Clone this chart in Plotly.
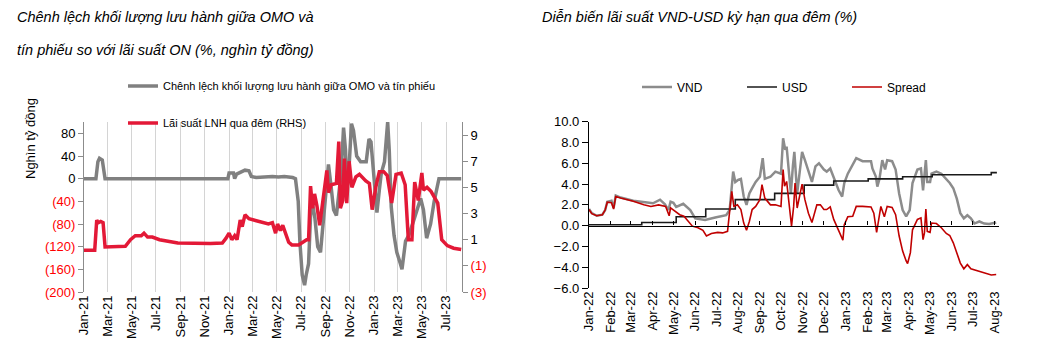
import plotly.graph_objects as go

W, H = 1051, 359
OFF = 8  # page body margin of the browser
FW, FH = W - 2 * OFF, H - 2 * OFF

# ---------------- Left chart data ----------------
omo_dates = ["2021-01-01", "2021-01-31", "2021-02-05", "2021-02-09", "2021-02-16", "2021-02-20", "2021-02-23",
             "2021-12-29", "2022-01-01", "2022-01-12", "2022-01-15", "2022-01-20", "2022-01-26", "2022-02-03",
             "2022-02-10", "2022-02-20", "2022-02-26", "2022-03-10", "2022-04-01", "2022-04-20", "2022-05-05",
             "2022-05-20", "2022-06-10", "2022-06-17", "2022-06-24", "2022-06-28", "2022-07-04", "2022-07-10",
             "2022-07-14", "2022-07-20", "2022-07-25", "2022-07-29", "2022-08-05", "2022-08-12", "2022-08-19",
             "2022-08-24", "2022-08-30", "2022-09-08", "2022-09-14", "2022-09-21", "2022-09-28", "2022-10-05",
             "2022-10-10", "2022-10-16", "2022-10-21", "2022-10-24", "2022-10-29", "2022-11-05", "2022-11-10",
             "2022-11-18", "2022-11-28", "2022-12-12", "2022-12-19", "2022-12-24", "2022-12-31", "2023-01-08",
             "2023-01-14", "2023-01-19", "2023-01-27", "2023-02-01", "2023-02-04", "2023-02-08", "2023-02-13",
             "2023-02-20", "2023-02-27", "2023-03-08", "2023-03-12", "2023-03-21", "2023-03-29", "2023-04-10",
             "2023-04-28", "2023-05-05", "2023-05-13", "2023-05-23", "2023-06-01", "2023-06-13", "2023-08-08"]
omo_vals = [0, 0, 30, 36, 33, 10, 0,
            0, 10, 10, 0, 8, 10, 14,
            15, 14, 4, 2, 3, 4, 3,
            4, 2, 0, -40, -110, -170, -188,
            -170, -150, -65, -40, -70, -120, -130,
            -90, -40, 25, -10, -55, -65, -20,
            10, 90, 50, -20, 10, 97, 85,
            40, 30, 30, 70, 65, 0, -60,
            -20, 10, 30, 80, 100, 50, -50,
            -100, -130, -150, -160, -110, -100, -75,
            -35, -55, -105, -80, -40, 0, 0]

on_dates = ["2021-01-01", "2021-01-28", "2021-02-02", "2021-02-06", "2021-02-12", "2021-02-18", "2021-02-23",
            "2021-04-15", "2021-04-28", "2021-05-10", "2021-05-25", "2021-06-01", "2021-06-10", "2021-06-22",
            "2021-07-10", "2021-08-01", "2021-08-25", "2021-11-15", "2021-12-15", "2021-12-24", "2022-01-01",
            "2022-01-08", "2022-01-15", "2022-01-21", "2022-01-29", "2022-02-03", "2022-02-10", "2022-02-20",
            "2022-03-15", "2022-04-10", "2022-04-20", "2022-04-28", "2022-05-03", "2022-05-10", "2022-05-16",
            "2022-05-31", "2022-06-08", "2022-06-25", "2022-07-15", "2022-07-20", "2022-07-25", "2022-07-30",
            "2022-08-04", "2022-08-10", "2022-08-17", "2022-08-25", "2022-09-04", "2022-09-08", "2022-09-15",
            "2022-09-28", "2022-10-04", "2022-10-08", "2022-10-14", "2022-10-18", "2022-10-24", "2022-10-30",
            "2022-11-06", "2022-11-16", "2022-11-25", "2022-12-11", "2022-12-20", "2022-12-27", "2023-01-05",
            "2023-01-14", "2023-01-25", "2023-02-03", "2023-02-14", "2023-02-25", "2023-03-10", "2023-03-20",
            "2023-03-28", "2023-04-06", "2023-04-13", "2023-04-22", "2023-05-01", "2023-05-05", "2023-05-14",
            "2023-05-24", "2023-06-10", "2023-06-20", "2023-07-04", "2023-07-20", "2023-08-08"]
on_vals = [0.2, 0.2, 2.5, 2.3, 2.4, 2.3, 0.45,
           0.5, 1.0, 1.3, 1.3, 1.5, 1.2, 1.2,
           1.0, 0.9, 0.75, 0.7, 0.75, 1.1, 1.5,
           1.0, 1.3, 1.0, 2.5, 2.0, 2.9, 2.6,
           2.4, 2.2, 2.3, 1.5, 2.2, 1.7, 2.1,
           0.8, 0.6, 0.6, 1.0, 1.0, 5.1, 3.4,
           4.5, 3.6, 2.1, 4.0, 6.3, 4.6, 5.2,
           5.3, 8.5, 3.4, 4.0, 7.2, 3.8, 7.0,
           5.0, 5.8, 6.0, 5.5, 5.3, 3.3, 5.0,
           6.2, 6.2, 5.9, 3.8, 6.0, 6.1, 5.2,
           1.0, 1.0, 5.4, 4.0, 6.1, 4.8, 5.0,
           4.7, 3.8, 1.0, 0.55, 0.35, 0.25]

left_y_ticks = [-200, -160, -120, -80, -40, 0, 40, 80]
right_y_ticks = [-3, -1, 1, 3, 5, 7, 9]

# ---------------- Right chart data ----------------
vnd_dates = ["2022-01-01", "2022-01-05", "2022-01-12", "2022-01-20", "2022-01-24", "2022-01-27", "2022-02-02",
             "2022-02-05", "2022-02-08", "2022-02-15", "2022-03-05", "2022-04-02", "2022-04-12", "2022-04-19",
             "2022-04-24", "2022-04-27", "2022-05-01", "2022-05-05", "2022-05-15", "2022-05-25", "2022-06-01",
             "2022-06-15", "2022-07-01", "2022-07-15", "2022-07-20", "2022-07-22", "2022-07-25", "2022-07-28",
             "2022-08-01", "2022-08-05", "2022-08-09", "2022-08-13", "2022-08-17", "2022-08-21", "2022-08-26",
             "2022-09-01", "2022-09-05", "2022-09-08", "2022-09-16", "2022-09-23", "2022-10-01", "2022-10-04",
             "2022-10-07", "2022-10-09", "2022-10-12", "2022-10-15", "2022-10-18", "2022-10-20", "2022-10-24",
             "2022-10-27", "2022-10-31", "2022-11-04", "2022-11-10", "2022-11-14", "2022-11-19", "2022-11-24",
             "2022-12-01", "2022-12-05", "2022-12-10", "2022-12-15", "2022-12-22", "2022-12-27", "2022-12-30",
             "2023-01-04", "2023-01-11", "2023-01-16", "2023-01-25", "2023-02-06", "2023-02-08", "2023-02-13",
             "2023-02-15", "2023-02-18", "2023-02-22", "2023-02-26", "2023-03-01", "2023-03-08", "2023-03-13",
             "2023-03-18", "2023-03-23", "2023-03-28", "2023-04-02", "2023-04-06", "2023-04-13", "2023-04-18",
             "2023-04-21", "2023-04-23", "2023-04-25", "2023-04-27", "2023-05-01", "2023-05-03", "2023-05-10",
             "2023-05-17", "2023-05-24", "2023-05-29", "2023-06-03", "2023-06-08", "2023-06-13", "2023-06-18",
             "2023-06-23", "2023-06-28", "2023-07-03", "2023-07-10", "2023-07-17", "2023-07-24", "2023-08-03"]
vnd_vals = [1.6, 1.2, 0.95, 1.05, 1.5, 2.3, 2.4,
            1.7, 2.9, 2.7, 2.4, 2.15, 2.5, 2.05,
            1.5, 2.3, 2.2, 1.8, 2.1, 1.5, 0.7,
            0.55, 0.8, 1.0, 1.5, 3.1, 5.2, 4.2,
            4.4, 4.5, 2.8, 2.0, 3.1, 3.6, 4.2,
            4.7, 6.5, 4.5, 4.7, 5.2, 5.0, 8.4,
            7.3, 7.6, 4.9, 3.1, 5.8, 7.1, 3.1,
            4.7, 7.1, 6.3, 4.9, 4.2, 5.7, 6.0,
            5.4, 5.2, 5.5, 4.7, 3.4, 2.8, 4.1,
            5.0, 5.8, 6.5, 6.2, 6.2, 5.5, 4.7,
            3.75, 4.5, 6.3, 5.4, 6.3, 6.2, 5.4,
            3.1, 1.5, 0.9, 1.5, 4.1, 5.4, 5.5,
            3.4, 4.7, 6.3, 4.2, 4.2, 5.0, 5.2,
            5.0, 4.5, 4.1, 3.6, 2.6, 1.2, 0.7,
            1.0, 0.7, 0.2, 0.4, 0.2, 0.15, 0.3]

usd_dates = ["2022-01-01", "2022-03-17", "2022-05-05", "2022-06-16", "2022-07-28", "2022-09-22", "2022-11-03",
             "2022-12-15", "2023-02-02", "2023-03-23", "2023-05-04", "2023-07-27", "2023-08-04"]
usd_vals = [0.08, 0.3, 0.85, 1.6, 2.5, 3.1, 3.9, 4.3, 4.5, 4.7, 4.9, 5.1, 5.1]

spread_dates = ["2022-01-01", "2022-01-05", "2022-01-12", "2022-01-20", "2022-01-24", "2022-01-27", "2022-02-02",
                "2022-02-05", "2022-02-08", "2022-02-15", "2022-03-05", "2022-03-20", "2022-03-30", "2022-04-10",
                "2022-04-20", "2022-04-25", "2022-04-27", "2022-05-03", "2022-05-10", "2022-05-16", "2022-05-20",
                "2022-05-28", "2022-06-05", "2022-06-12", "2022-06-17", "2022-06-24", "2022-07-03", "2022-07-10",
                "2022-07-17", "2022-07-20", "2022-07-23", "2022-07-26", "2022-07-31", "2022-08-05", "2022-08-09",
                "2022-08-13", "2022-08-17", "2022-08-21", "2022-08-26", "2022-09-01", "2022-09-04", "2022-09-08",
                "2022-09-16", "2022-09-23", "2022-10-01", "2022-10-04", "2022-10-06", "2022-10-09", "2022-10-12",
                "2022-10-16", "2022-10-19", "2022-10-21", "2022-10-24", "2022-10-27", "2022-10-31", "2022-11-04",
                "2022-11-09", "2022-11-14", "2022-11-21", "2022-11-26", "2022-12-01", "2022-12-05", "2022-12-10",
                "2022-12-15", "2022-12-20", "2022-12-25", "2022-12-28", "2022-12-30", "2023-01-04", "2023-01-11",
                "2023-01-16", "2023-01-25", "2023-02-06", "2023-02-10", "2023-02-14", "2023-02-17", "2023-02-20",
                "2023-02-25", "2023-03-01", "2023-03-08", "2023-03-13", "2023-03-18", "2023-03-23", "2023-03-28",
                "2023-03-30", "2023-04-03", "2023-04-06", "2023-04-13", "2023-04-18", "2023-04-21", "2023-04-23",
                "2023-04-25", "2023-04-27", "2023-05-01", "2023-05-03", "2023-05-10", "2023-05-17", "2023-05-24",
                "2023-05-29", "2023-06-03", "2023-06-08", "2023-06-13", "2023-06-18", "2023-06-23", "2023-06-28",
                "2023-07-05", "2023-07-12", "2023-07-19", "2023-07-27", "2023-08-03"]
spread_vals = [1.55, 1.15, 0.95, 1.05, 1.5, 2.25, 2.2,
               1.6, 2.8, 2.65, 2.35, 2.0, 1.85, 2.0,
               1.85, 0.95, 1.7, 1.4, 1.05, 0.9, 0.6,
               -0.05, -0.2, -0.45, -1.0, -0.75, -0.65, -0.7,
               -0.55, 1.55, 3.3, 1.85, 2.0, 1.55, 0.25,
               -0.45, 0.4, 1.55, 1.85, 2.5, 3.95, 2.65,
               2.0, 2.0, 1.85, 5.4, 3.8, 4.25, 2.2,
               -0.05, 1.85, 4.1, 1.7, 2.8, 4.0, 2.5,
               1.2, 0.3, 2.0, 2.0, 1.55, 1.55, 1.8,
               0.6, -0.2, -0.85, -1.4, 0.1, 0.85, 0.9,
               1.85, 1.85, 1.8, 1.2, -0.65, 0.6, 1.85,
               0.85, 1.85, 1.75, 1.05, -1.0, -2.45, -3.4,
               -3.65, -2.6, -0.4, 0.6, 0.75, -1.35, -0.7,
               1.6, -0.55, -0.65, 0.25, 0.2, -0.2, -0.75,
               -0.95, -1.65, -2.6, -3.6, -4.15, -3.75, -4.15,
               -4.3, -4.5, -4.6, -4.75, -4.7]

# ---------------- layout helpers ----------------
def px(x):
    return (x - OFF) / FW

def py(y):
    return 1 - (y - OFF) / FH

FONT = "Liberation Sans Narrow, Arial Narrow, Liberation Sans, Arial, sans-serif"
GRAY = "#808080"
RED = "#e31937"
TICKRED = "#ff0000"

L_X = [px(84), px(462)]
L_Y = [py(292), py(122)]
R_X = [px(589), px(999)]
R_Y = [py(288), py(121.7)]

fig = go.Figure()

fig.add_trace(go.Scatter(x=omo_dates, y=omo_vals, mode="lines", xaxis="x", yaxis="y",
                         name="Chênh lệch khối lượng lưu hành giữa OMO và tín phiếu",
                         line=dict(color=GRAY, width=3.5), legend="legend"))
fig.add_trace(go.Scatter(x=on_dates, y=on_vals, mode="lines", xaxis="x", yaxis="y2",
                         name="Lãi suất LNH qua đêm (RHS)",
                         line=dict(color=RED, width=3.5), legend="legend2"))

fig.add_trace(go.Scatter(x=vnd_dates, y=vnd_vals, mode="lines", xaxis="x2", yaxis="y3",
                         name="VND", line=dict(color="#8c8c8c", width=2.5), legend="legend3"))
fig.add_trace(go.Scatter(x=usd_dates, y=usd_vals, mode="lines", xaxis="x2", yaxis="y3",
                         name="USD", line=dict(color="#1a1a1a", width=1.6, shape="hv"), legend="legend3"))
fig.add_trace(go.Scatter(x=spread_dates, y=spread_vals, mode="lines", xaxis="x3", yaxis="y3",
                         name="Spread", line=dict(color="#c00000", width=1.6), legend="legend3"))

def paren(v, color):
    if v < 0:
        return f"<span style='color:{color}'>({abs(v)})</span>"
    return str(v)

zero_frac = (0 - (-6)) / (10 - (-6))
zero_paper = R_Y[0] + zero_frac * (R_Y[1] - R_Y[0])

tickfont = dict(family=FONT, size=13, color="#000000")

fig.update_layout(
    width=FW, height=FH,
    margin=dict(l=0, r=0, t=0, b=0, autoexpand=False),
    paper_bgcolor="white", plot_bgcolor="rgba(0,0,0,0)",
    font=dict(family=FONT, size=12, color="#000000"),
    showlegend=True,
    hovermode=False,
    xaxis=dict(domain=L_X, anchor="y", type="date", range=["2021-01-01", "2023-08-10"],
               tick0="2021-01-01", dtick="M2", tickformat="%b-%y", tickangle=-90,
               showgrid=True, gridcolor="#d4d4d4", gridwidth=1, showline=False, ticks="",
               zeroline=False, tickfont=tickfont, automargin=False),
    yaxis=dict(domain=L_Y, anchor="x", range=[-200, 100], tickvals=left_y_ticks,
               ticktext=[paren(v, TICKRED) for v in left_y_ticks],
               showgrid=False, zeroline=False, showline=True, linecolor="#8c8c8c", linewidth=1,
               ticks="outside", ticklen=5, tickcolor="#8c8c8c", tickfont=tickfont, automargin=False),
    yaxis2=dict(overlaying="y", side="right", anchor="x", range=[-3, 10], tickvals=right_y_ticks,
                ticktext=[paren(v, TICKRED) for v in right_y_ticks],
                showgrid=False, zeroline=False, showline=True, linecolor="#8c8c8c", linewidth=1,
                ticks="outside", ticklen=5, tickcolor="#8c8c8c", tickfont=tickfont, automargin=False),
    xaxis2=dict(domain=R_X, anchor="y3", type="date", range=["2022-01-01", "2023-08-07"],
                tick0="2022-01-01", dtick="M1", tickformat="%b-%y", tickangle=-90,
                showgrid=False, showline=False, ticks="", zeroline=False, tickfont=tickfont,
                automargin=False),
    xaxis3=dict(overlaying="x2", anchor="free", position=zero_paper, type="date",
                range=["2022-01-01", "2023-08-07"], tick0="2022-01-01", dtick="M1",
                showticklabels=False, showgrid=False, showline=True, linecolor="#000000", linewidth=1.3,
                ticks="inside", ticklen=4, tickcolor="#000000", zeroline=False, automargin=False),
    yaxis3=dict(domain=R_Y, anchor="x2", range=[-6, 10], dtick=2, tick0=0, tickformat=".1f",
                showgrid=False, zeroline=False, showline=True, linecolor="#000000", linewidth=1.3,
                ticks="outside", ticklen=6, tickcolor="#000000", tickfont=tickfont, automargin=False),
    yaxis4=dict(overlaying="y3", anchor="x2", side="left", range=[-6, 10], dtick=2, tick0=0,
                showticklabels=False, showgrid=False, zeroline=False, showline=False,
                ticks="inside", ticklen=5, tickcolor="#000000", automargin=False),
    legend=dict(x=px(123), y=py(86), xanchor="left", yanchor="middle", bgcolor="rgba(0,0,0,0)",
                font=dict(family=FONT, size=11, color="#000000")),
    legend2=dict(x=px(123), y=py(123), xanchor="left", yanchor="middle", bgcolor="rgba(0,0,0,0)",
                 font=dict(family=FONT, size=11, color="#000000")),
    legend3=dict(x=px(637), y=py(87), xanchor="left", yanchor="middle", orientation="h",
                 entrywidth=60, entrywidthmode="pixels", bgcolor="rgba(0,0,0,0)",
                 font=dict(family=FONT, size=12, color="#000000")),
)

title_font = dict(family=FONT, size=14.5, color="#000000")
fig.add_annotation(x=px(15), y=py(17), xref="paper", yref="paper", xanchor="left", yanchor="middle",
                   text="<i>Chênh lệch khối lượng lưu hành giữa OMO và</i>", showarrow=False, font=title_font)
fig.add_annotation(x=px(15), y=py(50), xref="paper", yref="paper", xanchor="left", yanchor="middle",
                   text="<i>tín phiếu so với lãi suất ON (%, nghìn tỷ đồng)</i>", showarrow=False, font=title_font)
fig.add_annotation(x=px(540), y=py(17), xref="paper", yref="paper", xanchor="left", yanchor="middle",
                   text="<i>Diễn biến lãi suất VND-USD kỳ hạn qua đêm (%)</i>", showarrow=False, font=title_font)
fig.add_annotation(x=px(30), y=py(139), xref="paper", yref="paper", xanchor="center", yanchor="middle",
                   text="Nghìn tỷ đồng", textangle=-90, showarrow=False,
                   font=dict(family=FONT, size=13, color="#000000"))

fig.write_html("out.html")
